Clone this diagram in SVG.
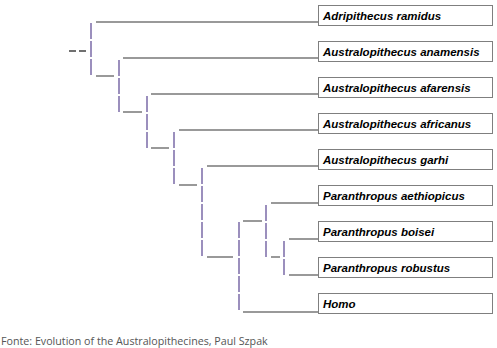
<svg xmlns="http://www.w3.org/2000/svg" width="497" height="348" viewBox="0 0 497 348">
<style>
.box{fill:#fff;stroke:#7f7f7f;stroke-width:1}
.lbl{font-family:"Liberation Sans",Arial,sans-serif;font-size:11.5px;font-weight:bold;font-style:italic;fill:#000}
.h{stroke:#999;stroke-width:2;fill:none}
.stub{stroke:#707070;stroke-width:2;stroke-dasharray:7 3;fill:none}
.v{stroke:#9b8fbd;stroke-width:2;stroke-dasharray:16 2;fill:none}
.foot{font-family:"Open Sans",sans-serif;font-size:10.7px;fill:#555}
</style>
<rect width="497" height="348" fill="#fff"/>
<g id="connectors">
<path class="stub" d="M69 51H86"/>
<path class="v" d="M91 23V76"/>
<path class="h" d="M96 22H318"/>
<path class="h" d="M96 76H114"/>
<path class="v" d="M119 60V112"/>
<path class="h" d="M123 58H318"/>
<path class="h" d="M123 112H142"/>
<path class="v" d="M147 96V148"/>
<path class="h" d="M151 94H318"/>
<path class="h" d="M151 148H169"/>
<path class="v" d="M174 132V185"/>
<path class="h" d="M179 130H318"/>
<path class="h" d="M179 185H197"/>
<path class="v" d="M202 168V257"/>
<path class="h" d="M207 166H318"/>
<path class="h" d="M207 257H233"/>
<path class="v" d="M239 222V312"/>
<path class="h" d="M243 221H262"/>
<path class="h" d="M243 312H318"/>
<path class="v" d="M266 205V257"/>
<path class="h" d="M271 203H318"/>
<path class="h" d="M271 257H280"/>
<path class="v" d="M284 241V275"/>
<path class="h" d="M289 239H318"/>
<path class="h" d="M289 275H318"/>
</g>
<g id="n1"><rect class="box" x="318.5" y="5.5" width="174" height="20"/><text class="lbl" x="323" y="19.5">Adripithecus ramidus</text></g>
<g id="n2"><rect class="box" x="318.5" y="41.5" width="174" height="20"/><text class="lbl" x="323" y="55.5">Australopithecus anamensis</text></g>
<g id="n3"><rect class="box" x="318.5" y="77.5" width="174" height="20"/><text class="lbl" x="323" y="91.5">Australopithecus afarensis</text></g>
<g id="n4"><rect class="box" x="318.5" y="113.5" width="174" height="20"/><text class="lbl" x="323" y="127.5">Australopithecus africanus</text></g>
<g id="n5"><rect class="box" x="318.5" y="149.5" width="174" height="20"/><text class="lbl" x="323" y="163.5">Australopithecus garhi</text></g>
<g id="n6"><rect class="box" x="318.5" y="185.5" width="174" height="20"/><text class="lbl" x="323" y="199.5">Paranthropus aethiopicus</text></g>
<g id="n7"><rect class="box" x="318.5" y="221.5" width="174" height="20"/><text class="lbl" x="323" y="235.5">Paranthropus boisei</text></g>
<g id="n8"><rect class="box" x="318.5" y="257.5" width="174" height="20"/><text class="lbl" x="323" y="271.5">Paranthropus robustus</text></g>
<g id="n9"><rect class="box" x="318.5" y="293.5" width="174" height="20"/><text class="lbl" x="323" y="307.5">Homo</text></g>
<text class="foot" x="1" y="345">Fonte: Evolution of the Australopithecines, Paul Szpak</text>
</svg>
